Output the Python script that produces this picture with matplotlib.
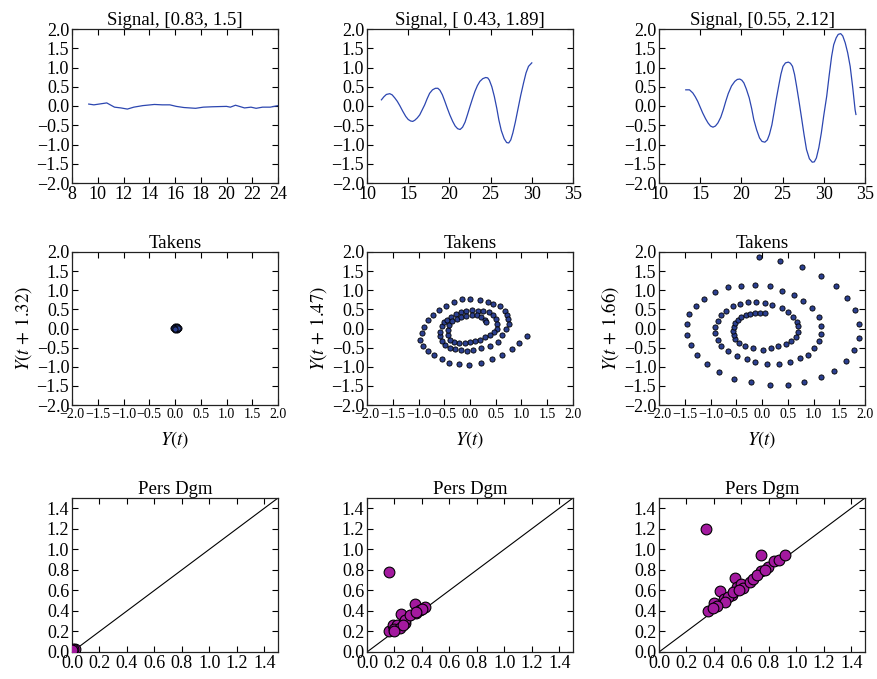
"""Sliding-window signals, their Takens embeddings and the persistence diagrams."""

import matplotlib
matplotlib.use("Agg")
import matplotlib.pyplot as plt
import numpy as np

plt.rcParams["font.family"] = ["Liberation Serif", "DejaVu Serif"]
plt.rcParams["mathtext.fontset"] = "stix"
plt.rcParams["xtick.direction"] = "in"
plt.rcParams["ytick.direction"] = "in"
plt.rcParams["xtick.top"] = True
plt.rcParams["ytick.right"] = True
plt.rcParams["axes.unicode_minus"] = True

# --- signal windows (time, value) ---
SIG_TITLES = ["Signal, [0.83, 1.5]", "Signal, [ 0.43, 1.89]", "Signal, [0.55, 2.12]"]
SIG_XLIM = [(8, 24), (10, 35), (10, 35)]
SIG_XSTEP = [2, 5, 5]

sig1_t = [9.3, 9.7, 10.1, 10.7, 11.3, 11.8, 12.3, 12.8, 13.5, 14.4, 15.0, 15.6,
          16.1, 16.7, 17.6, 18.2, 18.9, 20.0, 20.3, 20.7, 21.0, 21.4, 21.9, 22.3,
          22.8, 23.4, 24.0]
sig1_y = [0.05, 0.03, 0.05, 0.08, -0.03, -0.05, -0.08, -0.03, 0.01, 0.04, 0.03, 0.03,
          -0.01, -0.04, -0.06, -0.03, -0.02, -0.01, -0.03, 0.02, -0.01, -0.05, -0.03, -0.06,
          -0.03, -0.03, 0.01]

sig2_t = [11.75, 12.05, 12.35, 12.76, 13.05, 13.37, 13.68, 13.98, 14.35, 14.7, 15.0, 15.3,
          15.55, 15.8, 16.1, 16.4, 16.7, 17.0, 17.3, 17.6, 17.95, 18.3, 18.6, 18.85,
          19.15, 19.45, 19.75, 20.05, 20.4, 20.7, 21.0, 21.3, 21.6, 21.9, 22.2, 22.5,
          22.8, 23.1, 23.4, 23.7, 24.05, 24.4, 24.65, 24.85, 25.15, 25.45, 25.75, 26.0,
          26.3, 26.65, 26.95, 27.2, 27.45, 27.7, 28.0, 28.3, 28.65, 29.0, 29.3, 29.6, 30.0]
sig2_y = [0.16, 0.24, 0.30, 0.32, 0.29, 0.21, 0.12, 0.01, -0.14, -0.27, -0.35, -0.39,
          -0.40, -0.37, -0.31, -0.23, -0.10, 0.03, 0.19, 0.33, 0.42, 0.46, 0.46, 0.41,
          0.29, 0.12, -0.06, -0.23, -0.40, -0.52, -0.59, -0.61, -0.55, -0.42, -0.22, -0.01,
          0.19, 0.38, 0.53, 0.64, 0.71, 0.74, 0.73, 0.67, 0.50, 0.25, -0.06, -0.36,
          -0.64, -0.85, -0.95, -0.96, -0.88, -0.70, -0.42, -0.10, 0.27, 0.60, 0.86, 1.03, 1.12]

sig3_t = [13.25, 13.7, 14.1, 14.4, 14.7, 15.0, 15.3, 15.65, 15.95, 16.25, 16.55, 16.85,
          17.15, 17.5, 17.8, 18.1, 18.4, 18.8, 19.2, 19.5, 19.8, 20.05, 20.3, 20.6,
          20.95, 21.25, 21.5, 21.85, 22.2, 22.5, 22.85, 23.15, 23.4, 23.7, 23.95, 24.25,
          24.55, 24.8, 25.05, 25.35, 25.7, 25.95, 26.2, 26.45, 26.7, 27.0, 27.3, 27.6,
          27.9, 28.25, 28.6, 28.85, 29.1, 29.4, 29.7, 30.0, 30.35, 30.65, 30.95, 31.2,
          31.5, 31.75, 32.05, 32.3, 32.6, 32.9, 33.2, 33.5, 33.8, 33.9]
sig3_y = [0.42, 0.42, 0.34, 0.24, 0.12, -0.03, -0.18, -0.33, -0.44, -0.52, -0.55, -0.52,
          -0.44, -0.29, -0.10, 0.12, 0.32, 0.52, 0.64, 0.69, 0.70, 0.67, 0.60, 0.44,
          0.21, -0.07, -0.35, -0.62, -0.83, -0.92, -0.94, -0.88, -0.74, -0.49, -0.18, 0.20,
          0.55, 0.83, 1.03, 1.12, 1.14, 1.11, 1.03, 0.82, 0.51, 0.11, -0.31, -0.74,
          -1.13, -1.37, -1.46, -1.45, -1.35, -1.08, -0.70, -0.24, 0.25, 0.79, 1.29, 1.59,
          1.77, 1.86, 1.88, 1.82, 1.64, 1.38, 1.03, 0.50, -0.10, -0.22]

SIG_T = [sig1_t, sig2_t, sig3_t]
SIG_Y = [sig1_y, sig2_y, sig3_y]

# --- Takens embeddings: (Y(t), Y(t + tau)) ---
TAKENS_LAGS = ["1.32", "1.47", "1.66"]

tk1_x = [0.00, 0.03, 0.06, 0.07, 0.06, 0.03, 0.00, -0.02, -0.03, -0.02, 0.01, 0.04,
         0.05, 0.02, -0.01, 0.03, 0.05, 0.00]
tk1_y = [0.06, 0.07, 0.05, 0.02, -0.01, -0.03, -0.03, -0.01, 0.02, 0.05, 0.04, 0.03,
         0.00, -0.01, 0.01, 0.05, 0.02, 0.00]

tk2_x = [1.10, 0.96, 0.82, 0.62, 0.42, 0.21, -0.01, -0.22, -0.40, -0.55, -0.70, -0.82,
         -0.91, -0.97, -0.94, -0.90, -0.82, -0.71, -0.60, -0.47, -0.31, -0.16, 0.00, 0.19,
         0.34, 0.45, 0.58, 0.68, 0.71, 0.73, 0.75, 0.70, 0.63, 0.55, 0.38, 0.21,
         0.06, -0.06, -0.18, -0.29, -0.39, -0.49, -0.55, -0.58, -0.58, -0.55, -0.50, -0.45,
         -0.37, -0.28, -0.18, -0.08, 0.03, 0.15, 0.26, 0.36, 0.44, 0.50, 0.53, 0.52,
         0.47, 0.39, 0.29, 0.19, 0.10, 0.00, -0.10, -0.21, -0.31, -0.38, -0.42, -0.42,
         -0.40, -0.34, -0.26, -0.17, -0.08, 0.03, 0.13, 0.21, 0.29, 0.32]
tk2_y = [-0.20, -0.39, -0.54, -0.70, -0.81, -0.90, -0.96, -0.93, -0.89, -0.81, -0.70, -0.58,
         -0.46, -0.29, -0.13, 0.03, 0.23, 0.36, 0.48, 0.60, 0.70, 0.76, 0.77, 0.75,
         0.70, 0.65, 0.58, 0.46, 0.35, 0.24, 0.11, -0.02, -0.17, -0.35, -0.46, -0.51,
         -0.57, -0.58, -0.57, -0.53, -0.50, -0.43, -0.33, -0.20, -0.09, 0.06, 0.17, 0.23,
         0.30, 0.37, 0.43, 0.47, 0.48, 0.47, 0.45, 0.42, 0.35, 0.26, 0.13, 0.00,
         -0.09, -0.17, -0.23, -0.29, -0.32, -0.36, -0.37, -0.37, -0.35, -0.29, -0.17, -0.04,
         0.08, 0.19, 0.25, 0.30, 0.33, 0.35, 0.34, 0.31, 0.23, 0.18]

tk3_x = [-0.06, 0.35, 0.77, 1.14, 1.43, 1.65, 1.81, 1.89, 1.88, 1.79, 1.63, 1.40,
         1.15, 0.82, 0.51, 0.15, -0.21, -0.55, -0.83, -1.07, -1.26, -1.38, -1.45, -1.46,
         -1.41, -1.29, -1.12, -0.91, -0.66, -0.41, -0.13, 0.15, 0.39, 0.63, 0.80, 0.98,
         1.10, 1.14, 1.14, 1.11, 1.01, 0.90, 0.74, 0.55, 0.33, 0.10, -0.13, -0.30,
         -0.49, -0.66, -0.79, -0.86, -0.92, -0.92, -0.86, -0.80, -0.70, -0.57, -0.42, -0.27,
         -0.11, 0.06, 0.20, 0.39, 0.51, 0.61, 0.67, 0.70, 0.69, 0.66, 0.57, 0.46,
         0.32, 0.17, 0.01, -0.17, -0.33, -0.44, -0.52, -0.55, -0.56, -0.55, -0.52, -0.46,
         -0.40, -0.32, -0.24, -0.14, -0.04, 0.06]
tk3_y = [1.86, 1.76, 1.60, 1.38, 1.12, 0.80, 0.48, 0.12, -0.25, -0.57, -0.86, -1.10,
         -1.28, -1.41, -1.48, -1.49, -1.40, -1.31, -1.14, -0.94, -0.70, -0.44, -0.16, 0.12,
         0.37, 0.60, 0.78, 0.95, 1.08, 1.12, 1.13, 1.10, 0.99, 0.87, 0.72, 0.53,
         0.30, 0.07, -0.14, -0.32, -0.51, -0.69, -0.78, -0.88, -0.94, -0.94, -0.88, -0.81,
         -0.72, -0.59, -0.45, -0.31, -0.12, 0.03, 0.19, 0.36, 0.47, 0.58, 0.65, 0.68,
         0.68, 0.67, 0.61, 0.53, 0.44, 0.31, 0.18, 0.06, -0.08, -0.21, -0.32, -0.41,
         -0.47, -0.51, -0.55, -0.52, -0.46, -0.38, -0.27, -0.17, -0.06, 0.05, 0.15, 0.23,
         0.30, 0.36, 0.39, 0.41, 0.41, 0.40]

TK_X = [tk1_x, tk2_x, tk3_x]
TK_Y = [tk1_y, tk2_y, tk3_y]

# --- H1 persistence diagrams (birth, death) ---
pd1_b = [0.00, 0.01, 0.02, 0.01, 0.00]
pd1_d = [0.01, 0.02, 0.03, 0.03, 0.02]

pd2_b = [0.158, 0.35, 0.25, 0.16, 0.19, 0.22, 0.275, 0.28, 0.355, 0.385, 0.42, 0.40,
         0.20, 0.24, 0.26, 0.31, 0.36, 0.20]
pd2_d = [0.78, 0.47, 0.37, 0.20, 0.26, 0.26, 0.28, 0.31, 0.38, 0.41, 0.44, 0.42,
         0.22, 0.23, 0.265, 0.36, 0.39, 0.20]

pd3_b = [0.345, 0.74, 0.55, 0.445, 0.36, 0.40, 0.47, 0.565, 0.595, 0.61, 0.66, 0.685,
         0.74, 0.795, 0.84, 0.875, 0.92, 0.53, 0.50, 0.48, 0.42, 0.54, 0.585, 0.71,
         0.77, 0.395]
pd3_d = [1.20, 0.945, 0.72, 0.595, 0.395, 0.475, 0.52, 0.635, 0.665, 0.62, 0.685, 0.71,
         0.79, 0.825, 0.89, 0.895, 0.94, 0.56, 0.535, 0.49, 0.445, 0.585, 0.60, 0.75,
         0.80, 0.43]

PD_B = [pd1_b, pd2_b, pd3_b]
PD_D = [pd1_d, pd2_d, pd3_d]

W, H = 877, 679
COL_X = [72, 367, 659]
COL_W = 206
ROW_Y = [(29, 183), (252, 405), (498, 652)]
TICK_FS = 13
TITLE_FS = 13.5

fig = plt.figure(figsize=(W / 100, H / 100), dpi=100)


def make_axes(col, row):
    x0 = COL_X[col]
    y0, y1 = ROW_Y[row]
    ax = fig.add_axes([x0 / W, 1 - y1 / H, COL_W / W, (y1 - y0) / H])
    ax.tick_params(labelsize=TICK_FS, length=4, width=0.8, pad=2)
    for sp in ax.spines.values():
        sp.set_linewidth(0.9)
        sp.set_color("#222222")
    return ax


for i in range(3):
    # signal
    ax = make_axes(i, 0)
    ax.plot(SIG_T[i], SIG_Y[i], color="#2c46b0", lw=0.9)
    lo, hi = SIG_XLIM[i]
    ax.set_xlim(lo, hi)
    ax.set_xticks(np.arange(lo, hi + 0.01, SIG_XSTEP[i]))
    ax.set_ylim(-2, 2)
    ax.set_yticks(np.arange(-2, 2.01, 0.5))
    ax.set_title(SIG_TITLES[i], fontsize=TITLE_FS, pad=3)

    # Takens embedding
    ax = make_axes(i, 1)
    ax.scatter(TK_X[i], TK_Y[i], s=14, color="#2b3f8f", edgecolors="black",
               linewidths=0.6, zorder=3)
    ax.set_xlim(-2, 2)
    ax.set_ylim(-2, 2)
    ax.set_xticks(np.arange(-2, 2.01, 0.5))
    ax.set_yticks(np.arange(-2, 2.01, 0.5))
    ax.tick_params(axis="x", labelsize=10)
    ax.set_title("Takens", fontsize=TITLE_FS, pad=3)
    ax.set_xlabel(r"$Y(t)$", fontsize=TITLE_FS, labelpad=6)
    ax.set_ylabel(r"$Y(t\,+\,%s)$" % TAKENS_LAGS[i], fontsize=TITLE_FS, labelpad=2)

    # persistence diagram
    ax = make_axes(i, 2)
    ax.plot([0, 1.5], [0, 1.5], color="black", lw=0.8)
    ax.scatter(PD_B[i], PD_D[i], s=60, color="#a3199f", edgecolors="black",
               linewidths=0.8, zorder=3)
    ax.set_xlim(0, 1.5)
    ax.set_ylim(0, 1.5)
    ax.set_xticks(np.arange(0, 1.41, 0.2))
    ax.set_yticks(np.arange(0, 1.41, 0.2))
    ax.set_title("Pers Dgm", fontsize=TITLE_FS, pad=3)

fig.savefig("out.png", dpi=100, facecolor="white")
